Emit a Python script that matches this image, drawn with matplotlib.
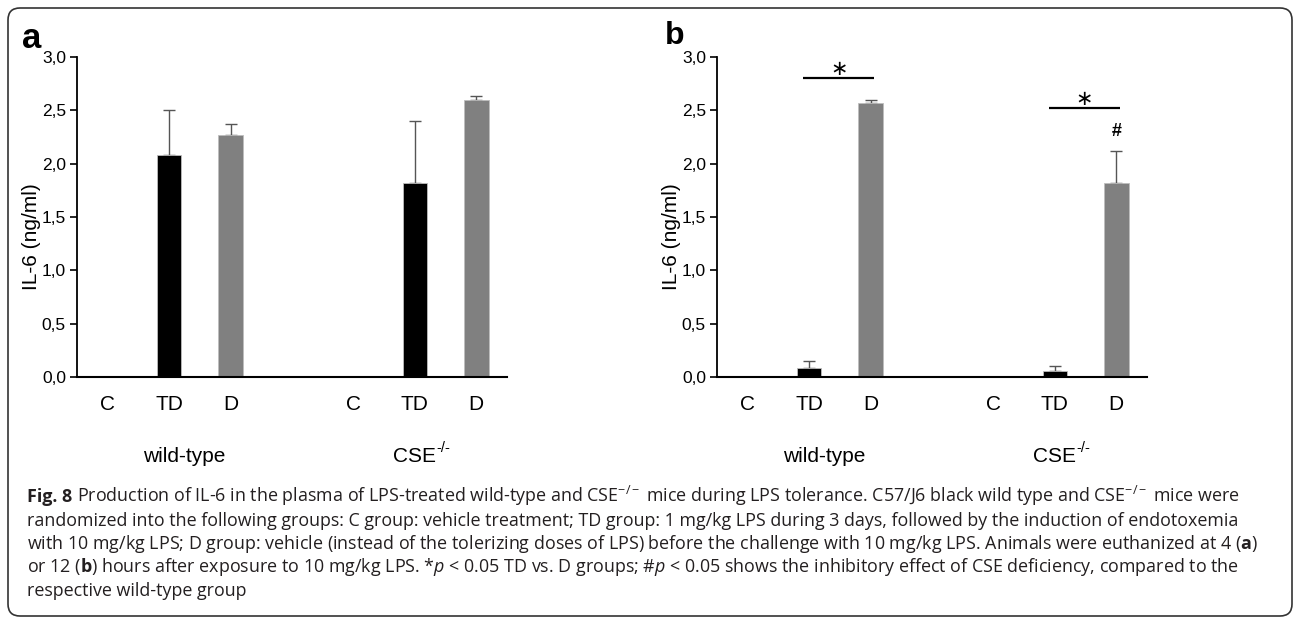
import matplotlib
matplotlib.use("Agg")
import matplotlib.pyplot as plt
import matplotlib.transforms as mtransforms
from matplotlib.patches import FancyBboxPatch

plt.rcParams['font.family'] = ['Liberation Sans', 'DejaVu Sans']
plt.rcParams['mathtext.fontset'] = 'custom'
plt.rcParams['mathtext.rm'] = 'Open Sans'
plt.rcParams['mathtext.it'] = 'Open Sans:italic'
plt.rcParams['mathtext.bf'] = 'Open Sans:bold'
plt.rcParams['mathtext.sf'] = 'Liberation Sans'

# ---------------- data ----------------
categories = ["C", "TD", "D", "C", "TD", "D"]
groups = ["wild-type", "CSE"]
group_sup = "-/-"
positions = [0, 1, 2, 4, 5, 6]
series_colors = ["white", "black", "#808080", "white", "black", "#808080"]

# panel a (4 h)
a_values = [0.0, 2.08, 2.27, 0.0, 1.82, 2.60]
a_errors = [0.0, 0.42, 0.10, 0.0, 0.58, 0.03]
# panel b (12 h)
b_values = [0.0, 0.085, 2.57, 0.0, 0.055, 1.82]
b_errors = [0.0, 0.065, 0.03, 0.0, 0.045, 0.30]

yticks = [0.0, 0.5, 1.0, 1.5, 2.0, 2.5, 3.0]
ytick_labels = ["0,0", "0,5", "1,0", "1,5", "2,0", "2,5", "3,0"]

# significance annotations in panel b: (x0, x1, y)
b_sig_lines = [(0.9, 2.06, 2.80), (4.9, 6.06, 2.52)]
b_hash = (6.0, 2.30)

caption_title = "Fig. 8"
caption_lines = [
    r"Production of IL-6 in the plasma of LPS-treated wild-type and CSE$^{-/-}$ mice during LPS tolerance. C57/J6 black wild type and CSE$^{-/-}$ mice were",
    "randomized into the following groups: C group: vehicle treatment; TD group: 1 mg/kg LPS during 3 days, followed by the induction of endotoxemia",
    r"with 10 mg/kg LPS; D group: vehicle (instead of the tolerizing doses of LPS) before the challenge with 10 mg/kg LPS. Animals were euthanized at 4 ($\mathbf{a}$)",
    r"or 12 ($\mathbf{b}$) hours after exposure to 10 mg/kg LPS. *$\mathit{p}$ < 0.05 TD vs. D groups; #$\mathit{p}$ < 0.05 shows the inhibitory effect of CSE deficiency, compared to the",
    "respective wild-type group",
]

W, H = 1295, 620
fig = plt.figure(figsize=(W / 100, H / 100), dpi=100)


def px_axes(l, r, t, b):
    return fig.add_axes([l / W, 1 - b / H, (r - l) / W, (b - t) / H])


def draw_panel(ax, values, errors, letter, letter_xy, letter_size):
    ax.bar(positions, values, width=0.4, color=series_colors,
           edgecolor="#bdbdbd", linewidth=0.6, zorder=2)
    for x, v, e in zip(positions, values, errors):
        if e > 0:
            ax.errorbar([x], [v], yerr=[[0], [e]], fmt="none", ecolor="#555555",
                        elinewidth=1.0, capsize=4.5, capthick=1.0, zorder=1)
    ax.set_xlim(-0.5, 6.5)
    ax.set_ylim(0, 3.0)
    ax.set_yticks(yticks)
    ax.set_yticklabels(ytick_labels, fontsize=12.5)
    ax.set_xticks(positions)
    ax.set_xticklabels(categories, fontsize=15)
    ax.tick_params(axis="x", length=0, pad=13)
    ax.tick_params(axis="y", length=5, width=1.2, pad=3, direction="out")
    for s in ["top", "right"]:
        ax.spines[s].set_visible(False)
    ax.spines["left"].set_linewidth(1.3)
    ax.spines["bottom"].set_linewidth(1.5)
    ax.set_ylabel("IL-6 (ng/ml)", fontsize=15)
    ax.yaxis.set_label_coords(-0.083, 0.44)
    trans = mtransforms.blended_transform_factory(ax.transData, ax.transAxes)
    ax.text(1.25, -0.25, groups[0], transform=trans, ha="center", va="center", fontsize=15)
    ax.text(5.34, -0.25, groups[1], transform=trans, ha="right", va="center", fontsize=15)
    ax.annotate(group_sup, xy=(5.34, -0.25), xycoords=trans, xytext=(0.5, 1.8),
                textcoords="offset points", ha="left", va="bottom", fontsize=10.5,
                annotation_clip=False)
    fig.text(letter_xy[0] / W, 1 - letter_xy[1] / H, letter, fontsize=letter_size,
             fontweight="bold", ha="center", va="center")


ax_a = px_axes(77, 507, 57, 377)
draw_panel(ax_a, a_values, a_errors, "a", (32, 38), 25)

ax_b = px_axes(717, 1147, 57, 377)
draw_panel(ax_b, b_values, b_errors, "b", (675, 36), 23)

for x0, x1, y in b_sig_lines:
    ax_b.plot([x0, x1], [y, y], color="black", lw=1.6, solid_capstyle="butt")
    ax_b.text((x0 + x1) / 2, y + 0.085, "\u2217", ha="center", va="center",
              fontsize=15, family="DejaVu Sans")
ax_b.text(b_hash[0], b_hash[1], "#", ha="center", va="center", fontsize=13,
          fontweight="bold")

# caption
baselines = [502, 525.5, 549, 572.5, 596]
cap_color = "#231f20"
title = fig.text(27 / W, 1 - baselines[0] / H, caption_title, fontsize=12.9,
                 family="Open Sans", fontweight="bold", color=cap_color,
                 ha="left", va="baseline")
renderer = fig.canvas.get_renderer()
title_w = title.get_window_extent(renderer).width
for i, (line, yb) in enumerate(zip(caption_lines, baselines)):
    x0 = 27 + (title_w + 4.5 if i == 0 else 0)
    fig.text(x0 / W, 1 - yb / H, line, fontsize=12.9, family="Open Sans",
             color=cap_color, ha="left", va="baseline")

# rounded frame
frame = FancyBboxPatch((8, 4), 1284, 608, boxstyle="round,pad=0,rounding_size=12",
                       transform=mtransforms.IdentityTransform(), fill=False,
                       edgecolor="#333333", linewidth=1.2)
fig.patches.append(frame)

fig.savefig("out.png", dpi=100)
